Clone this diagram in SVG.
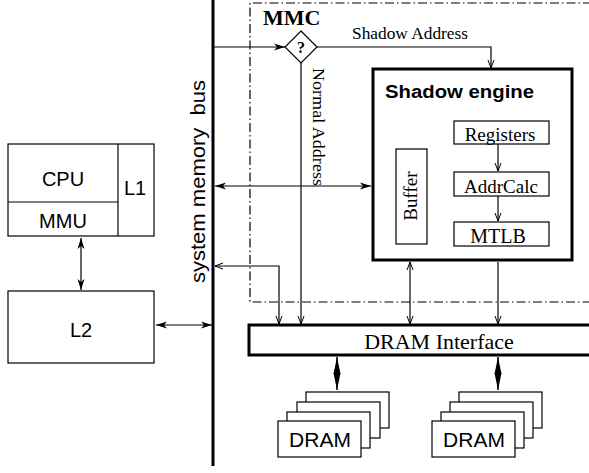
<svg xmlns="http://www.w3.org/2000/svg" width="589" height="473" viewBox="0 0 589 473">
<style>
.box{fill:#fff;stroke:#000;stroke-width:1.2}
.thick{fill:#fff;stroke:#000;stroke-width:3}
.ln{fill:none;stroke:#000;stroke-width:1.2}
.serif{font-family:"Liberation Serif","Times New Roman",serif;fill:#000}
.sans{font-family:"Liberation Sans",Arial,sans-serif;fill:#000}
</style>
<defs>
<marker id="op" viewBox="-10 -5 11 10" refX="0" refY="0" markerWidth="11" markerHeight="10" markerUnits="userSpaceOnUse" orient="auto-start-reverse">
<path d="M-8,-3 L0,0 L-8,3" fill="none" stroke="#000" stroke-width="1"/>
</marker>
<marker id="fl" viewBox="-12 -5 13 10" refX="0" refY="0" markerWidth="13" markerHeight="10" markerUnits="userSpaceOnUse" orient="auto-start-reverse">
<path d="M0,0 L-11,-3.5 L-8,0 L-11,3.5 z" fill="#000"/>
</marker>
<marker id="fb" viewBox="-18 -5 19 10" refX="0" refY="0" markerWidth="19" markerHeight="10" markerUnits="userSpaceOnUse" orient="auto-start-reverse">
<path d="M0,0 L-17,-3.5 L-17,3.5 z" fill="#000"/>
</marker>
</defs>

<g id="bus">
<line x1="213" y1="0" x2="213" y2="466" stroke="#000" stroke-width="3"/>
<text class="sans" font-size="21" transform="translate(205,283) rotate(-90)" textLength="203" lengthAdjust="spacingAndGlyphs" style="white-space:pre" xml:space="preserve">system memory  bus</text>
</g>

<g id="mmc">
<path d="M592,3 H250 V302 H592" fill="none" stroke="#000" stroke-width="1.2" stroke-dasharray="9,3,1.5,3"/>
<text class="serif" font-size="22" font-weight="bold" x="263" y="25">MMC</text>
</g>

<g id="decision">
<path d="M301,31 L317,47 L301,63 L285,47 z" class="box" stroke-width="1.5"/>
<text class="serif" font-size="16" font-weight="bold" x="301" y="53" text-anchor="middle">?</text>
</g>

<g id="cpu">
<rect class="box" x="8" y="144" width="146" height="92"/>
<line class="ln" x1="118" y1="144" x2="118" y2="236"/>
<line class="ln" x1="8" y1="202" x2="118" y2="202"/>
<text class="sans" font-size="20" x="63" y="186" text-anchor="middle">CPU</text>
<text class="sans" font-size="20" x="63" y="228" text-anchor="middle">MMU</text>
<text class="sans" font-size="20" x="135" y="195" text-anchor="middle">L1</text>
</g>

<g id="l2">
<rect class="box" x="8" y="291" width="146" height="72"/>
<text class="sans" font-size="20" x="81" y="337" text-anchor="middle">L2</text>
</g>

<g id="shadow-engine">
<rect class="thick" x="373" y="69" width="199" height="191"/>
<text class="sans" font-size="18" font-weight="bold" x="385" y="98" textLength="149" lengthAdjust="spacingAndGlyphs">Shadow engine</text>
</g>

<g id="registers">
<rect class="box" x="454" y="121" width="95" height="23"/>
<text class="serif" font-size="19" x="500" y="141" text-anchor="middle">Registers</text>
</g>
<g id="addrcalc">
<rect class="box" x="454" y="172" width="95" height="24"/>
<text class="serif" font-size="19" x="501" y="193" text-anchor="middle">AddrCalc</text>
</g>
<g id="mtlb">
<rect class="box" x="454" y="222" width="95" height="24"/>
<text class="serif" font-size="20" x="498" y="243" text-anchor="middle">MTLB</text>
</g>
<g id="buffer">
<rect class="box" x="396" y="149" width="31" height="95"/>
<text class="serif" font-size="19" transform="translate(417,196) rotate(-90)" text-anchor="middle">Buffer</text>
</g>

<g id="dram-interface">
<rect class="thick" x="249" y="325" width="345" height="30"/>
<text class="serif" font-size="22" x="439" y="349" text-anchor="middle">DRAM Interface</text>
</g>

<g id="dram1">
<rect class="box" x="306" y="392" width="83" height="36"/>
<rect class="box" x="297" y="402" width="83" height="36"/>
<rect class="box" x="287" y="412" width="83" height="36"/>
<rect class="box" x="278" y="421" width="83" height="36"/>
<text class="sans" font-size="21" x="320" y="447" text-anchor="middle">DRAM</text>
</g>
<g id="dram2">
<rect class="box" x="459" y="392" width="83" height="36"/>
<rect class="box" x="450" y="402" width="83" height="36"/>
<rect class="box" x="441" y="412" width="83" height="36"/>
<rect class="box" x="432" y="421" width="83" height="36"/>
<text class="sans" font-size="21" x="474" y="447" text-anchor="middle">DRAM</text>
</g>

<g id="connectors">
<line class="ln" x1="214" y1="47" x2="285" y2="47" marker-end="url(#fl)"/>
<polyline class="ln" points="317,47 491,47 491,68" marker-end="url(#op)"/>
<text class="serif" font-size="17" x="352" y="39" textLength="116" lengthAdjust="spacingAndGlyphs">Shadow Address</text>
<line class="ln" x1="301" y1="63" x2="301" y2="324" marker-end="url(#op)"/>
<text class="serif" font-size="17" transform="translate(313,68) rotate(90)" textLength="118" lengthAdjust="spacingAndGlyphs">Normal Address</text>
<line class="ln" x1="215" y1="186" x2="371" y2="186" marker-start="url(#fl)" marker-end="url(#fl)"/>
<polyline class="ln" points="215,266 279,266 279,324" marker-start="url(#op)" marker-end="url(#op)"/>
<line class="ln" x1="410" y1="262" x2="410" y2="324" marker-start="url(#op)" marker-end="url(#op)"/>
<line class="ln" x1="498" y1="262" x2="498" y2="324" marker-end="url(#op)"/>
<line class="ln" x1="498" y1="144" x2="498" y2="171" marker-end="url(#op)"/>
<line class="ln" x1="498" y1="196" x2="498" y2="221" marker-end="url(#op)"/>
<line class="ln" x1="81" y1="238" x2="81" y2="290" marker-start="url(#fl)" marker-end="url(#fl)"/>
<line class="ln" x1="156" y1="325" x2="212" y2="325" marker-start="url(#fl)" marker-end="url(#fl)"/>
<line x1="337" y1="357" x2="337" y2="390" stroke="#000" stroke-width="1.5" marker-start="url(#fb)" marker-end="url(#fb)"/>
<line x1="498" y1="357" x2="498" y2="390" stroke="#000" stroke-width="1.5" marker-start="url(#fb)" marker-end="url(#fb)"/>
</g>
</svg>
